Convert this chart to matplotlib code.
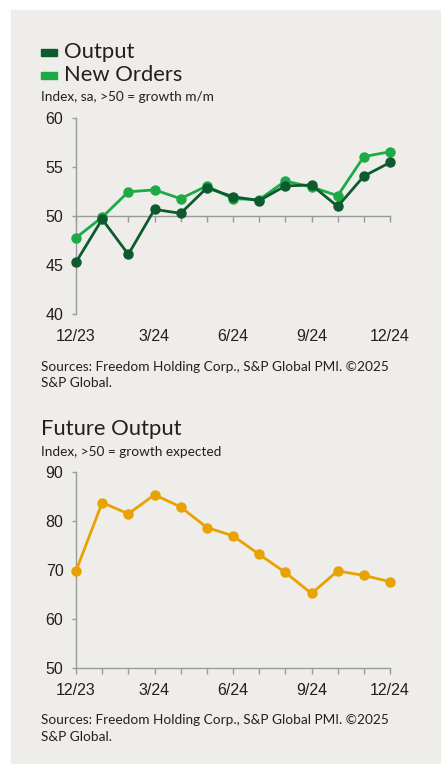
import matplotlib
matplotlib.use("Agg")
import matplotlib.pyplot as plt
from matplotlib.patches import Rectangle

months = ["12/23", "1/24", "2/24", "3/24", "4/24", "5/24", "6/24",
          "7/24", "8/24", "9/24", "10/24", "11/24", "12/24"]
tick_labels = ["12/23", "3/24", "6/24", "9/24", "12/24"]
output = [45.3, 49.7, 46.1, 50.7, 50.3, 52.9, 52.0, 51.6, 53.1, 53.2, 51.0, 54.1, 55.5]
new_orders = [47.8, 49.9, 52.5, 52.7, 51.8, 53.1, 51.8, 51.7, 53.6, 53.0, 52.1, 56.1, 56.6]
future_output = [69.8, 83.8, 81.5, 85.4, 82.9, 78.7, 77.0, 73.2, 69.5, 65.2, 69.8, 68.9, 67.6]

BG = "#EEEDE9"
DARK = "#0D5A2E"
BRIGHT = "#1BAA45"
GOLD = "#E8A202"
AXC = "#9A9A9A"
TXT = "#231F20"
LABEL_FONT = ["Liberation Sans", "DejaVu Sans"]
TEXT_FONT = ["Lato", "DejaVu Sans"]
SMALL = 9.8
BIG = 15.8

W, H = 441, 764
fig = plt.figure(figsize=(W / 100, H / 100), dpi=100)
fig.patch.set_facecolor("white")
fig.patches.append(Rectangle((11 / W, 0), 1 - 11 / W, 1 - 10 / H,
                             transform=fig.transFigure, color=BG, zorder=-10))

def px(x, y):
    return x / W, 1 - y / H

x = list(range(len(months)))
tick_pos = [months.index(t) for t in tick_labels]

def style_axes(ax, ylim, yticks, axis_at):
    ax.set_facecolor("none")
    ax.set_xlim(0, len(months) - 1)
    ax.set_ylim(*ylim)
    for s in ["top", "right", "bottom"]:
        ax.spines[s].set_visible(False)
    ax.spines["left"].set_color(AXC)
    ax.spines["left"].set_linewidth(1.0)
    ax.set_yticks(yticks)
    ax.tick_params(axis="y", length=3, width=1, color=AXC, labelsize=11.5,
                   labelcolor=TXT, pad=6)
    ax.set_xticks(tick_pos)
    ax.set_xticklabels(tick_labels)
    ax.tick_params(axis="x", length=0, labelsize=11.5, labelcolor=TXT, pad=11)
    for lab in ax.get_xticklabels() + ax.get_yticklabels():
        lab.set_family(LABEL_FONT)
    frac = (axis_at - ylim[0]) / (ylim[1] - ylim[0])
    sec = ax.secondary_xaxis(frac)
    sec.xaxis.set_ticks_position("bottom")
    sec.set_xticks(x)
    sec.set_xticklabels([])
    for sp in sec.spines.values():
        sp.set_color(AXC)
        sp.set_linewidth(1.0)
    sec.tick_params(axis="x", which="both", direction="out", length=4,
                    width=1, color=AXC, bottom=True, top=False)

# Top chart
ax1 = fig.add_axes([76 / W, 1 - 314 / H, 314 / W, 195.5 / H])
style_axes(ax1, (40, 60), [40, 45, 50, 55, 60], 50)
ax1.plot(x, new_orders, color=BRIGHT, lw=2.0, marker="o", ms=6.5, zorder=3,
         clip_on=False)
ax1.plot(x, output, color=DARK, lw=2.0, marker="o", ms=6.5, zorder=4,
         clip_on=False)

# Legend
for (yc, col, lab) in [(52, DARK, "Output"), (75, BRIGHT, "New Orders")]:
    fig.patches.append(Rectangle(px(41, yc + 3.5), 16 / W, 7 / H,
                                 transform=fig.transFigure, color=col))
    fig.text(*px(64, yc), lab, fontsize=BIG, family=TEXT_FONT, color=TXT,
             va="center", ha="left")
fig.text(*px(41, 97), "Index, sa, >50 = growth m/m", fontsize=SMALL,
         family=TEXT_FONT, color=TXT, va="center", ha="left")
fig.text(*px(41, 367), "Sources: Freedom Holding Corp., S&P Global PMI. \u00a92025",
         fontsize=SMALL, family=TEXT_FONT, color=TXT, va="center", ha="left")
fig.text(*px(41, 383), "S&P Global.",
         fontsize=SMALL, family=TEXT_FONT, color=TXT, va="center", ha="left")

# Bottom chart
ax2 = fig.add_axes([76 / W, 1 - 667.7 / H, 314 / W, 195.4 / H])
style_axes(ax2, (50, 90), [50, 60, 70, 80, 90], 50)
ax2.plot(x, future_output, color=GOLD, lw=2.0, marker="o", ms=6.5, zorder=3,
         clip_on=False)

fig.text(*px(41, 429), "Future Output", fontsize=BIG, family=TEXT_FONT,
         color=TXT, va="center", ha="left")
fig.text(*px(41, 452), "Index, >50 = growth expected", fontsize=SMALL,
         family=TEXT_FONT, color=TXT, va="center", ha="left")
fig.text(*px(41, 720), "Sources: Freedom Holding Corp., S&P Global PMI. \u00a92025",
         fontsize=SMALL, family=TEXT_FONT, color=TXT, va="center", ha="left")
fig.text(*px(41, 737), "S&P Global.",
         fontsize=SMALL, family=TEXT_FONT, color=TXT, va="center", ha="left")

fig.savefig("out.png", dpi=100, facecolor=fig.get_facecolor())
